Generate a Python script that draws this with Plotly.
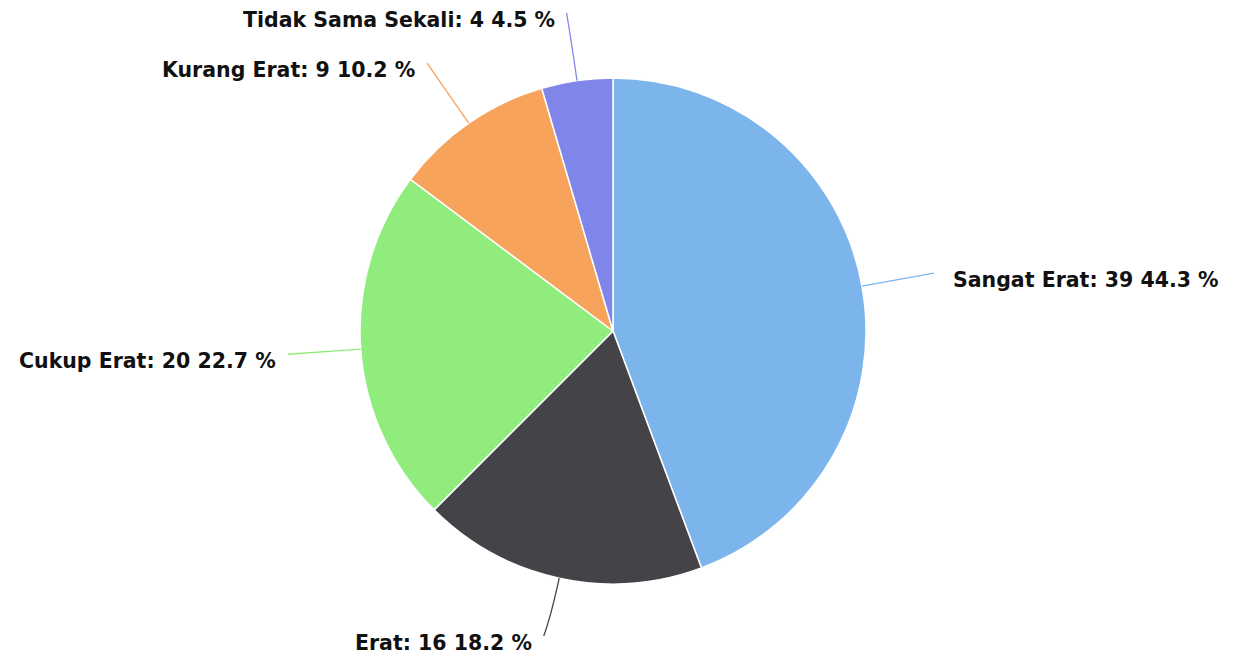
import math
import plotly.graph_objects as go

categories = ["Sangat Erat", "Erat", "Cukup Erat", "Kurang Erat", "Tidak Sama Sekali"]
values = [39, 16, 20, 9, 4]
colors = ["#7cb5ec", "#434348", "#90ed7d", "#f7a35c", "#8085e9"]

# page has an 8px body margin, so the figure is offset by 8px
OFF = 8
W, H = 1238 - OFF, 658 - OFF
cx, cy, r = 613 - OFF, 331 - OFF, 253
label_r = 326
font_size = 20.5

total = sum(values)
pct = [v / total * 100 for v in values]

fig = go.Figure()
fig.add_trace(go.Pie(
    labels=categories, values=values, sort=False, direction="clockwise", rotation=0,
    marker=dict(colors=colors, line=dict(color="#ffffff", width=1.5)),
    textinfo="none", showlegend=False,
    domain=dict(x=[(cx - r) / W, (cx + r) / W], y=[1 - (cy + r) / H, 1 - (cy - r) / H]),
))

def px(x):
    return x / W

def py(y):
    return 1 - y / H

shapes = []
annotations = []
cum = 0
for cat, v, p, col in zip(categories, values, pct, colors):
    mid = (cum + v / 2) / total * 2 * math.pi
    cum += v
    s, c = math.sin(mid), math.cos(mid)
    ex, ey = cx + r * s, cy - r * c
    lx, ly = cx + label_r * s, cy - label_r * c
    ty = min(max(ly + 7, 20 - OFF), 643 - OFF)   # text centre
    ly = ty - 7                                  # connector end
    kx, ky = cx + (r + 0.55 * (label_r - r)) * s, cy - (r + 0.55 * (label_r - r)) * c
    ky = min(max(ky, 30 - OFF), 633 - OFF)
    shapes.append(dict(
        type="path", xref="paper", yref="paper",
        path=f"M {px(ex)},{py(ey)} Q {px(kx)},{py(ky)} {px(lx)},{py(ly)}",
        line=dict(color=col, width=1.3),
    ))
    right = s >= 0
    annotations.append(dict(
        x=px(lx + (17 if right else -10)), y=py(ty), xref="paper", yref="paper",
        xanchor="left" if right else "right", yanchor="middle", showarrow=False,
        text=f"<b>{cat}: {v} {p:.1f} %</b>",
        font=dict(family="DejaVu Sans", size=font_size, color="#111111"),
    ))

fig.update_layout(
    width=W, height=H, margin=dict(l=0, r=0, t=0, b=0),
    paper_bgcolor="#ffffff", plot_bgcolor="#ffffff",
    shapes=shapes, annotations=annotations,
)
fig.write_html("out.html")
